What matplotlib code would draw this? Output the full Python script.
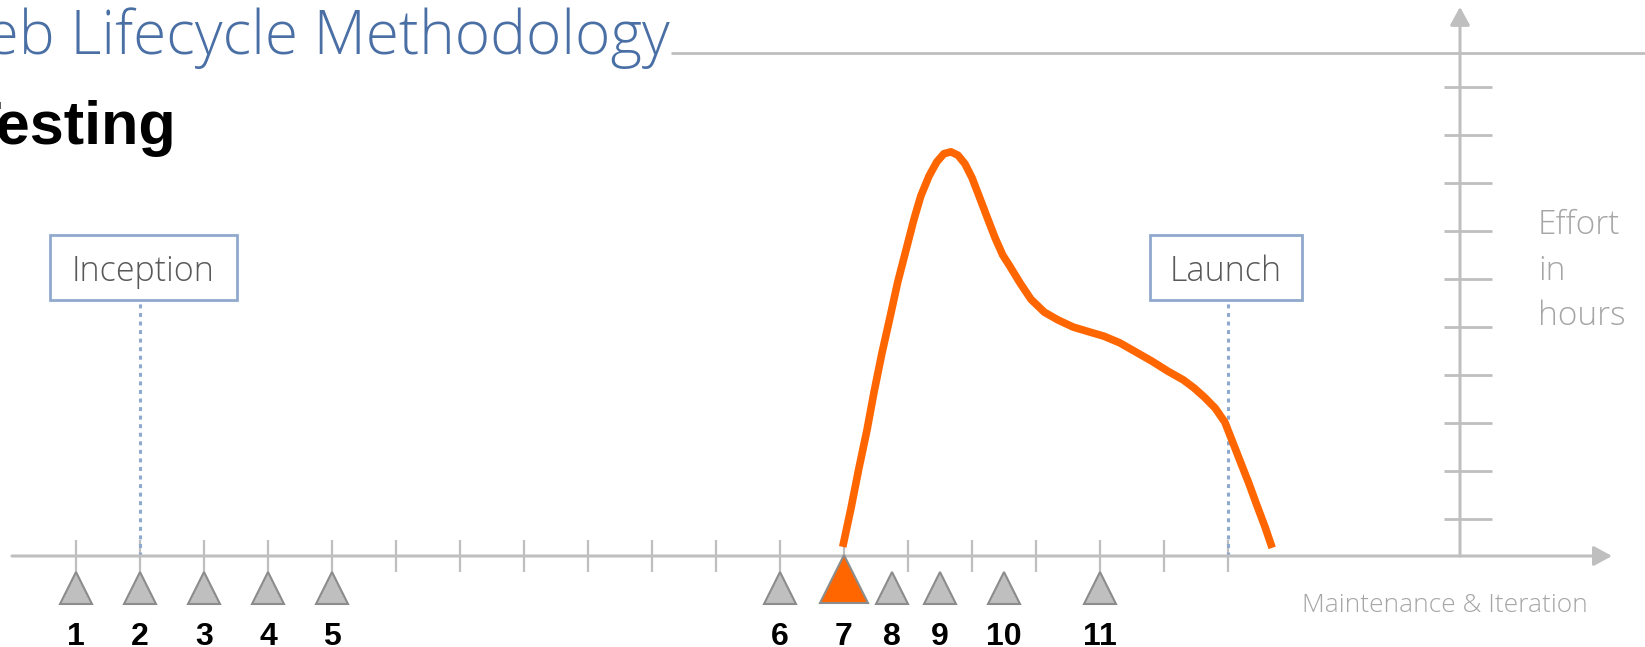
import numpy as np
import matplotlib.pyplot as plt
from matplotlib.patches import Rectangle

# timeline: x in periods (one tick per period), y in effort units
milestone_labels = ['1', '2', '3', '4', '5', '6', '7', '8', '9', '10', '11']
milestone_x = [0, 1, 2, 3, 4, 11, 12, 12.75, 13.5, 14.5, 16]
active_milestone = '7'

timeline_ticks = np.arange(19)
effort_ticks = np.arange(10) + 0.77

# testing effort curve
curve_x = [11.98, 12.11, 12.23, 12.36, 12.47, 12.59, 12.72, 12.84, 12.97, 13.09,
           13.20, 13.33, 13.45, 13.56, 13.67, 13.78, 13.89, 14.00, 14.11, 14.23,
           14.36, 14.48, 14.59, 14.75, 14.92, 15.13, 15.34, 15.58, 15.83, 16.06,
           16.31, 16.56, 16.81, 17.06, 17.30, 17.47, 17.63, 17.80, 17.95, 18.08,
           18.20, 18.33, 18.45, 18.58, 18.69]
curve_y = [0.19, 1.00, 1.81, 2.63, 3.42, 4.21, 4.98, 5.71, 6.38, 7.00,
           7.50, 7.92, 8.21, 8.38, 8.42, 8.35, 8.17, 7.88, 7.50, 7.08,
           6.63, 6.27, 6.04, 5.69, 5.35, 5.08, 4.92, 4.77, 4.67, 4.58,
           4.44, 4.25, 4.06, 3.85, 3.67, 3.50, 3.31, 3.08, 2.79, 2.35,
           1.94, 1.50, 1.06, 0.60, 0.17]

phase_labels = ['Inception', 'Launch']
phase_x = [1, 18]

GRAY = '#BFBFBF'
ORANGE = '#FF6600'
BLUE = '#8FA9CE'
LIGHT = ['Open Sans', 'DejaVu Sans']
BOLD = ['Liberation Sans', 'DejaVu Sans']

fig = plt.figure(figsize=(16.45, 6.47), dpi=100)
ax = fig.add_axes([0, 0, 1, 1])
ax.set_xlim(-76 / 64, (1645 - 76) / 64)
ax.set_ylim(-91 / 48, (647 - 91) / 48)
ax.axis('off')

# header
ax.text(9.28, 10.46, 'Web Lifecycle Methodology', ha='right', va='baseline',
        fontsize=43.5, color='#4A6FA5', family=LIGHT, fontweight='light')
ax.plot([9.3, 24.6], [10.48, 10.48], color=GRAY, lw=2, solid_capstyle='butt')
ax.text(1.56, 8.58, 'Testing', ha='right', va='baseline', fontsize=44,
        fontweight='bold', family=BOLD, color='black')

# axes with arrows
arrow = dict(arrowstyle='-|>,head_length=0.55,head_width=0.3', lw=2.2,
             color=GRAY, shrinkA=0, shrinkB=0, mutation_scale=20)
ax.annotate('', xy=(24.0, 0), xytext=(-1.0, 0), arrowprops=arrow)
ax.annotate('', xy=(21.625, 11.44), xytext=(21.625, 0), arrowprops=arrow)

for t in timeline_ticks:
    ax.plot([t, t], [-0.333, 0.333], color=GRAY, lw=1.6, solid_capstyle='butt')
for e in effort_ticks:
    ax.plot([21.375, 22.125], [e, e], color=GRAY, lw=2, solid_capstyle='butt')

# phase boxes with dotted drop lines
box_w = [2.92, 2.375]
for label, px, w in zip(phase_labels, phase_x, box_w):
    cx = px + (0.05 if label == 'Inception' else -0.03)
    ax.plot([px, px], [0, 5.33], color=BLUE, lw=2.2, linestyle=(0, (1.3, 1.5)),
            dash_capstyle='butt')
    ax.add_patch(Rectangle((cx - w / 2, 5.33), w, 1.35, fill=True, fc='white',
                           ec=BLUE, lw=2, zorder=3))
    ax.text(cx, 5.72, label, ha='center', va='baseline', fontsize=24.5,
            color='#595959', family=LIGHT, fontweight='light', zorder=4)

# effort curve
ax.plot(curve_x, curve_y, color=ORANGE, lw=5.5, solid_capstyle='butt',
        solid_joinstyle='round', zorder=5)

# milestones
for label, mx in zip(milestone_labels, milestone_x):
    if label == active_milestone:
        ax.plot(mx, -0.48, marker='^', ms=34.5, mfc=ORANGE, mec='#8C8C8C',
                mew=1.5, zorder=6)
    else:
        ax.plot(mx, -0.667, marker='^', ms=23.5, mfc=GRAY, mec='#8C8C8C',
                mew=1.5, zorder=6)
    ax.text(mx, -1.86, label, ha='center', va='baseline', fontsize=23,
            fontweight='bold', family=BOLD)

# axis captions
for i, word in enumerate(['Effort', 'in', 'hours']):
    ax.text(22.84, 6.71 - 0.95 * i, word, ha='left', va='baseline', fontsize=24,
            color='#A6A6A6', family=LIGHT, fontweight='light')
ax.text(19.16, -1.17, 'Maintenance & Iteration', ha='left', va='baseline',
        fontsize=19, color='#A6A6A6', family=LIGHT, fontweight='light')

fig.savefig('out.png', dpi=100)
